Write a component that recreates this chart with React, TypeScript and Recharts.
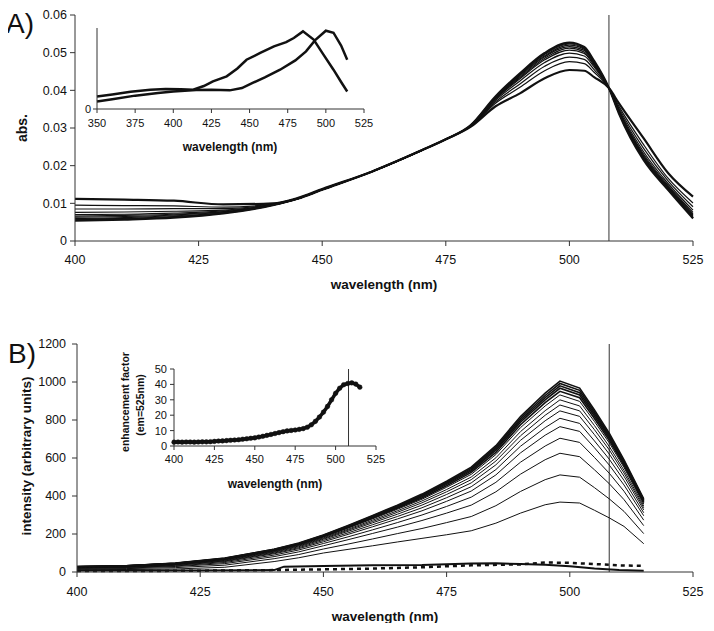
import React from 'react';
import { LineChart, Line, XAxis, YAxis, ReferenceLine } from 'recharts';

// ---------- panel A: absorbance spectra ----------
const absWavelengths = [400, 410, 420, 430, 440, 445, 450, 460, 470, 475, 480, 485, 490, 495, 500, 503, 505, 508, 510, 515, 520, 525];
const absScan01 = [0.0112, 0.0110, 0.0107, 0.0097, 0.0100, 0.0114, 0.0138, 0.0184, 0.0240, 0.0270, 0.0303, 0.0357, 0.0392, 0.0432, 0.0454, 0.0452, 0.0435, 0.0406, 0.0366, 0.0273, 0.0180, 0.0118];
const absScan02 = [0.0095, 0.0094, 0.0093, 0.0090, 0.0098, 0.0113, 0.0137, 0.0184, 0.0240, 0.0270, 0.0304, 0.0365, 0.0408, 0.0452, 0.0476, 0.0471, 0.0448, 0.0406, 0.0358, 0.0256, 0.0166, 0.0101];
const absScan03 = [0.0085, 0.0085, 0.0086, 0.0086, 0.0098, 0.0113, 0.0137, 0.0184, 0.0240, 0.0270, 0.0305, 0.0369, 0.0417, 0.0464, 0.0488, 0.0482, 0.0455, 0.0406, 0.0353, 0.0246, 0.0159, 0.0091];
const absScan04 = [0.0076, 0.0077, 0.0079, 0.0082, 0.0097, 0.0113, 0.0137, 0.0184, 0.0240, 0.0270, 0.0305, 0.0373, 0.0425, 0.0474, 0.0499, 0.0491, 0.0462, 0.0406, 0.0349, 0.0237, 0.0152, 0.0082];
const absScan05 = [0.0070, 0.0071, 0.0074, 0.0080, 0.0096, 0.0113, 0.0137, 0.0184, 0.0240, 0.0270, 0.0306, 0.0376, 0.0431, 0.0481, 0.0507, 0.0498, 0.0466, 0.0406, 0.0346, 0.0231, 0.0147, 0.0076];
const absScan06 = [0.0066, 0.0068, 0.0071, 0.0078, 0.0096, 0.0112, 0.0136, 0.0184, 0.0240, 0.0270, 0.0306, 0.0378, 0.0434, 0.0485, 0.0512, 0.0502, 0.0469, 0.0406, 0.0345, 0.0227, 0.0144, 0.0072];
const absScan07 = [0.0063, 0.0065, 0.0069, 0.0077, 0.0096, 0.0112, 0.0136, 0.0184, 0.0240, 0.0270, 0.0306, 0.0379, 0.0437, 0.0489, 0.0516, 0.0506, 0.0472, 0.0406, 0.0343, 0.0224, 0.0142, 0.0069];
const absScan08 = [0.0060, 0.0062, 0.0067, 0.0075, 0.0096, 0.0112, 0.0136, 0.0184, 0.0240, 0.0270, 0.0307, 0.0380, 0.0440, 0.0492, 0.0520, 0.0509, 0.0474, 0.0406, 0.0342, 0.0221, 0.0140, 0.0066];
const absScan09 = [0.0058, 0.0060, 0.0065, 0.0074, 0.0095, 0.0112, 0.0136, 0.0184, 0.0240, 0.0270, 0.0307, 0.0381, 0.0442, 0.0495, 0.0523, 0.0511, 0.0475, 0.0406, 0.0341, 0.0218, 0.0138, 0.0063];
const absScan10 = [0.0056, 0.0059, 0.0063, 0.0074, 0.0095, 0.0112, 0.0136, 0.0184, 0.0240, 0.0270, 0.0307, 0.0382, 0.0443, 0.0497, 0.0525, 0.0513, 0.0477, 0.0406, 0.0340, 0.0217, 0.0136, 0.0062];
const absScan11 = [0.0054, 0.0057, 0.0062, 0.0073, 0.0095, 0.0112, 0.0136, 0.0184, 0.0240, 0.0270, 0.0307, 0.0383, 0.0445, 0.0499, 0.0527, 0.0515, 0.0478, 0.0406, 0.0339, 0.0215, 0.0135, 0.0060];
const absScans = [absScan01, absScan02, absScan03, absScan04, absScan05, absScan06, absScan07, absScan08, absScan09, absScan10, absScan11];

// inset of A: two reference spectra
const insetWlFirst = [350, 360, 372, 385, 395, 405, 413, 420, 426, 435, 442, 448, 457, 466, 474, 479, 485, 492, 498, 505, 510, 514];
const insetAbsFirst = [0.0093, 0.0108, 0.0128, 0.0142, 0.0148, 0.0146, 0.0143, 0.0170, 0.0205, 0.0242, 0.0300, 0.0365, 0.0415, 0.0464, 0.0495, 0.0526, 0.0575, 0.0514, 0.0410, 0.0291, 0.0200, 0.0130];
const insetWlSecond = [350, 360, 375, 390, 400, 415, 425, 437, 445, 452, 460, 470, 480, 487, 493, 500, 505, 510, 514];
const insetAbsSecond = [0.0056, 0.0072, 0.0099, 0.0118, 0.0130, 0.0140, 0.0142, 0.0138, 0.0155, 0.0193, 0.0235, 0.0291, 0.0360, 0.0427, 0.0510, 0.0580, 0.0565, 0.0470, 0.0365];

// ---------- panel B: emission/excitation spectra ----------
const emWavelengths = [400, 410, 420, 430, 440, 445, 450, 455, 460, 465, 470, 475, 480, 485, 490, 495, 498, 502, 505, 508, 511, 515];
const emScan01 = [12, 13, 16, 25, 55, 75, 100, 119, 138, 158, 177, 196, 217, 257, 310, 354, 368, 363, 325, 285, 240, 149];
const emScan02 = [16, 18, 23, 36, 70, 92, 121, 147, 174, 202, 229, 260, 292, 349, 424, 486, 511, 499, 444, 385, 319, 202];
const emScan03 = [19, 21, 29, 44, 81, 106, 138, 170, 203, 236, 271, 310, 352, 422, 515, 591, 625, 607, 538, 465, 381, 244];
const emScan04 = [21, 24, 32, 50, 89, 116, 150, 185, 222, 260, 300, 345, 394, 472, 578, 663, 704, 682, 603, 520, 425, 273];
const emScan05 = [23, 25, 35, 55, 96, 123, 159, 198, 238, 279, 322, 372, 426, 511, 627, 720, 765, 740, 654, 563, 458, 296];
const emScan06 = [24, 27, 38, 58, 100, 128, 166, 206, 249, 292, 338, 391, 449, 539, 662, 760, 809, 782, 690, 594, 482, 312];
const emScan07 = [25, 28, 39, 61, 104, 133, 172, 214, 259, 304, 352, 408, 469, 564, 693, 796, 848, 819, 723, 621, 504, 327];
const emScan08 = [26, 29, 41, 64, 107, 137, 176, 220, 266, 314, 364, 422, 486, 584, 717, 825, 879, 848, 749, 643, 521, 338];
const emScan09 = [26, 30, 42, 66, 110, 140, 180, 225, 273, 322, 374, 434, 500, 601, 739, 849, 906, 874, 771, 661, 535, 348];
const emScan10 = [27, 31, 43, 68, 113, 143, 184, 231, 280, 330, 383, 446, 514, 618, 760, 874, 932, 898, 792, 680, 550, 358];
const emScan11 = [28, 31, 44, 69, 115, 146, 187, 234, 284, 336, 390, 454, 524, 630, 775, 891, 951, 917, 808, 693, 560, 365];
const emScan12 = [28, 32, 45, 70, 116, 147, 189, 237, 288, 340, 396, 461, 532, 641, 788, 906, 967, 932, 821, 704, 569, 371];
const emScan13 = [28, 32, 46, 71, 117, 149, 191, 240, 292, 344, 401, 467, 539, 649, 798, 918, 980, 944, 832, 713, 576, 376];
const emScan14 = [29, 33, 46, 72, 119, 150, 193, 242, 295, 348, 405, 472, 545, 657, 808, 929, 992, 956, 842, 722, 583, 380];
const emScan15 = [29, 33, 47, 73, 120, 152, 195, 245, 298, 352, 410, 478, 552, 665, 818, 941, 1005, 968, 853, 731, 590, 385];
const emScans = [emScan01, emScan02, emScan03, emScan04, emScan05, emScan06, emScan07, emScan08, emScan09, emScan10, emScan11, emScan12, emScan13, emScan14, emScan15];

const blankSolidWl = [400, 420, 440, 442, 450, 460, 470, 480, 485, 490, 495, 500, 505, 510, 515];
const blankSolid = [8, 8, 10, 28, 32, 35, 37, 45, 46, 42, 38, 30, 18, 10, 7];
const blankDashedWl = [400, 420, 440, 450, 460, 470, 480, 490, 495, 500, 505, 510, 515];
const blankDashed = [5, 6, 10, 14, 18, 25, 35, 40, 50, 48, 42, 35, 32];

// inset of B: enhancement factor
const enhWavelengths = [400, 402.5, 405, 407.5, 410, 412.5, 415, 417.5, 420, 422.5, 425, 427.5, 430, 432.5, 435, 437.5, 440, 442.5, 445, 447.5, 450, 452.5, 455, 457.5, 460, 462.5, 465, 467.5, 470, 472.5, 475, 477.5, 480, 482.5, 485, 487.5, 490, 492.5, 495, 497.5, 500, 502.5, 505, 507.5, 510, 512.5, 515];
const enhFactor = [2.5, 2.6, 2.5, 2.6, 2.6, 2.5, 2.6, 2.7, 2.7, 2.8, 3.0, 3.2, 3.3, 3.5, 3.7, 3.9, 4.1, 4.4, 4.7, 5.0, 5.3, 5.8, 6.3, 6.9, 7.5, 8.1, 8.7, 9.3, 9.8, 10.1, 10.4, 10.8, 11.3, 12.2, 13.8, 16.0, 18.8, 22.0, 25.7, 30.0, 34.2, 37.5, 39.8, 40.6, 41.0, 40.2, 38.2];

const mainTicks = [400, 425, 450, 475, 500, 525];
const insetATicks = [350, 375, 400, 425, 450, 475, 500, 525];
const absTicks = [0, 0.01, 0.02, 0.03, 0.04, 0.05, 0.06];
const intensityTicks = [0, 200, 400, 600, 800, 1000, 1200];
const enhTicks = [0, 10, 20, 30, 40, 50];
const isosbestic = 508;

const toRows = (xs: number[], series: number[][]) =>
  xs.map((x, i) => {
    const row: any = { x };
    series.forEach((s, k) => { row['s' + k] = s[i]; });
    return row;
  });
const pairs = (xs: number[], ys: number[]) => xs.map((x, i) => ({ x, y: ys[i] }));

const ink = '#111';
const axisInk = '#333';

export default function App() {
  const absRows = toRows(absWavelengths, absScans);
  const emRows = toRows(emWavelengths, emScans);
  const tick = { fontSize: 12.5, fill: ink };
  const smallTick = { fontSize: 11, fill: ink };

  return (
    <div style={{ position: 'relative', width: 714, height: 631, margin: -8, background: '#fff', fontFamily: '"Liberation Sans", Arial, sans-serif' }}>
      {/* A main */}
      <div style={{ position: 'absolute', left: 0, top: 0 }}>
        <LineChart width={714} height={300} data={absRows} margin={{ top: 15, right: 21, bottom: 29, left: 0 }}>
          <XAxis type="number" dataKey="x" domain={[400, 525]} ticks={mainTicks} interval={0} height={30} tickSize={5} tickMargin={9} stroke={axisInk} tick={tick} />
          <YAxis type="number" domain={[0, 0.06]} ticks={absTicks} interval={0} width={75} tickSize={5} tickMargin={3} stroke={axisInk} tick={tick}
            tickFormatter={(v: number) => (v === 0 ? '0' : v.toFixed(2))} />
          <ReferenceLine x={isosbestic} stroke={axisInk} />
          {absScans.map((_, k) => (
            <Line key={k} type="monotone" dataKey={'s' + k} stroke={ink} strokeWidth={k === 0 || k === absScans.length - 1 ? 2.2 : 1.2}
              dot={false} activeDot={false} isAnimationActive={false} />
          ))}
        </LineChart>
      </div>

      {/* A inset */}
      <div style={{ position: 'absolute', left: 60, top: 10 }}>
        <LineChart width={330} height={140} margin={{ top: 18, right: 26, bottom: 16, left: 7 }}>
          <XAxis type="number" dataKey="x" domain={[350, 525]} ticks={insetATicks} interval={0} height={25} tickSize={4} tickMargin={6} stroke={axisInk} tick={smallTick} />
          <YAxis type="number" domain={[0, 0.06]} ticks={[0]} interval={0} width={30} tickSize={4} tickMargin={2} stroke={axisInk} tick={smallTick} />
          <Line data={pairs(insetWlFirst, insetAbsFirst)} dataKey="y" type="linear" stroke={ink} strokeWidth={2.5} dot={false} activeDot={false} isAnimationActive={false} />
          <Line data={pairs(insetWlSecond, insetAbsSecond)} dataKey="y" type="linear" stroke={ink} strokeWidth={2.5} dot={false} activeDot={false} isAnimationActive={false} />
        </LineChart>
      </div>

      {/* B main */}
      <div style={{ position: 'absolute', left: 0, top: 320 }}>
        <LineChart width={714} height={311} data={emRows} margin={{ top: 24, right: 21, bottom: 29, left: 0 }}>
          <XAxis type="number" dataKey="x" domain={[400, 525]} ticks={mainTicks} interval={0} height={30} tickSize={5} tickMargin={10} stroke={axisInk} tick={tick} />
          <YAxis type="number" domain={[0, 1200]} ticks={intensityTicks} interval={0} width={77} tickSize={5} tickMargin={6} stroke={axisInk} tick={tick} />
          <ReferenceLine x={isosbestic} stroke={axisInk} />
          {emScans.map((_, k) => (
            <Line key={k} type="linear" dataKey={'s' + k} stroke={ink} strokeWidth={k >= 10 ? 1.6 : 1}
              dot={false} activeDot={false} isAnimationActive={false} />
          ))}
          <Line data={pairs(blankSolidWl, blankSolid)} dataKey="y" type="linear" stroke={ink} strokeWidth={2} dot={false} activeDot={false} isAnimationActive={false} />
          <Line data={pairs(blankDashedWl, blankDashed)} dataKey="y" type="linear" stroke={ink} strokeWidth={2.5} strokeDasharray="4 4" dot={false} activeDot={false} isAnimationActive={false} />
        </LineChart>
      </div>

      {/* B inset */}
      <div style={{ position: 'absolute', left: 100, top: 350 }}>
        <LineChart width={300} height={150} margin={{ top: 19, right: 24, bottom: 29, left: 34 }}>
          <XAxis type="number" dataKey="x" domain={[400, 525]} ticks={mainTicks} interval={0} height={25} tickSize={4} tickMargin={5} stroke={axisInk} tick={smallTick} />
          <YAxis type="number" domain={[0, 50]} ticks={enhTicks} interval={0} width={40} tickSize={4} tickMargin={3} stroke={axisInk} tick={smallTick} />
          <ReferenceLine x={isosbestic} stroke={axisInk} />
          <Line data={pairs(enhWavelengths, enhFactor)} dataKey="y" type="linear" stroke={ink} strokeWidth={3.5}
            dot={{ r: 2.3, fill: ink, stroke: ink, strokeWidth: 0.5 }} activeDot={false} isAnimationActive={false} />
        </LineChart>
      </div>

      {/* labels */}
      <svg width={714} height={631} style={{ position: 'absolute', left: 0, top: 0, pointerEvents: 'none' }}>
        <g fill={ink}>
          <text x={6} y={33} fontSize={28}>A)</text>
          <text transform="translate(23,128) rotate(-90)" textAnchor="middle" dominantBaseline="middle" fontWeight="bold" fontSize={14}>abs.</text>
          <text x={384} y={289} textAnchor="middle" fontWeight="bold" fontSize={13.5}>wavelength (nm)</text>
          <text x={230} y={151} textAnchor="middle" fontWeight="bold" fontSize={12}>wavelength (nm)</text>
          <text x={8} y={363} fontSize={28}>B)</text>
          <text transform="translate(27,456) rotate(-90)" textAnchor="middle" dominantBaseline="middle" fontWeight="bold" fontSize={13.5}>intensity (arbitrary units)</text>
          <text transform="translate(126,402) rotate(-90)" textAnchor="middle" dominantBaseline="middle" fontWeight="bold" fontSize={10.5}>enhancement factor</text>
          <text transform="translate(141,405) rotate(-90)" textAnchor="middle" dominantBaseline="middle" fontWeight="bold" fontSize={10.5}>(em=525nm)</text>
          <text x={275} y={488} textAnchor="middle" fontWeight="bold" fontSize={12}>wavelength (nm)</text>
          <text x={385} y={621} textAnchor="middle" fontWeight="bold" fontSize={13.5}>wavelength (nm)</text>
        </g>
      </svg>
    </div>
  );
}
